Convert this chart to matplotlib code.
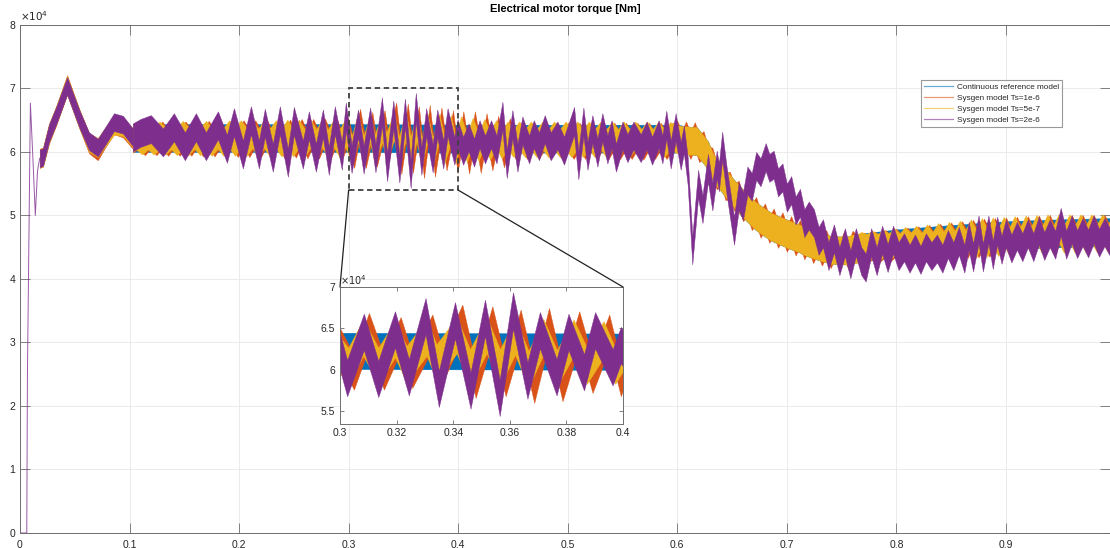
import matplotlib
matplotlib.use("Agg")
import matplotlib.pyplot as plt
import numpy as np
from matplotlib.lines import Line2D
from matplotlib.patches import Rectangle, ConnectionPatch

plt.rcParams['font.family'] = ['Liberation Sans', 'DejaVu Sans']

# values are in units of 1e4 Nm, time in s
SCALE = 1e4

# thin start-up transient (all models overlap, purple is on top)
startup_t = [0.0, 0.0062, 0.0068, 0.0095, 0.0118, 0.0140, 0.0160, 0.0180]
startup_v = [0.0, 0.0, 2.5, 6.77, 5.9, 5.0, 5.7, 5.9]

# first swing, before the fast ripple grows (band centres)
early_t = [0.018, 0.021, 0.0265, 0.033, 0.043, 0.054, 0.063, 0.071, 0.0785, 0.0858, 0.094, 0.103]
early_orange = [5.90, 5.92, 6.28, 6.57, 7.06, 6.53, 6.13, 6.02, 6.24, 6.43, 6.38, 6.20]
early_yellow = [5.90, 5.92, 6.30, 6.57, 7.05, 6.53, 6.15, 6.07, 6.25, 6.42, 6.40, 6.22]
early_purple = [5.90, 5.92, 6.30, 6.57, 7.04, 6.53, 6.17, 6.07, 6.27, 6.47, 6.43, 6.23]

# Continuous reference model: band centre
blue_t = [0.103, 0.2, 0.3, 0.4, 0.5, 0.600, 0.610, 0.618, 0.622, 0.628, 0.633, 0.641, 0.649,
          0.656, 0.664, 0.671, 0.679, 0.686, 0.694, 0.702, 0.710, 0.717, 0.725, 0.732, 0.740,
          0.747, 0.755, 0.770, 0.800, 0.850, 0.900, 0.950, 0.998]
blue_v = [6.22, 6.22, 6.22, 6.21, 6.21, 6.21, 6.18, 6.17, 6.08, 5.95, 5.74, 5.58, 5.40,
          5.26, 5.12, 5.00, 4.90, 4.82, 4.76, 4.70, 4.65, 4.59, 4.54, 4.50, 4.46,
          4.45, 4.45, 4.50, 4.56, 4.63, 4.69, 4.72, 4.74]

# Sysgen Ts=1e-6
orange_t = [0.103,
            0.1087, 0.1140, 0.1193, 0.1246, 0.1299, 0.1352, 0.1405, 0.1458, 0.1511, 0.1564,
            0.1617, 0.1670, 0.1723, 0.1776, 0.1829, 0.1882, 0.1935, 0.1988, 0.2041, 0.2094,
            0.2147, 0.2200, 0.2253, 0.2306, 0.2359, 0.2412, 0.2465, 0.2518, 0.2571, 0.2624,
            0.2677, 0.2730, 0.2783, 0.2836, 0.2889, 0.2942, 0.2995,
            0.3051, 0.3104, 0.3157, 0.3216, 0.3257, 0.3328, 0.3363, 0.3434, 0.3481, 0.3540,
            0.3587, 0.3640, 0.3688, 0.3740, 0.3788, 0.3847, 0.3894, 0.3953, 0.3994,
            0.4047, 0.4100, 0.4153, 0.4206, 0.4259, 0.4312, 0.4365, 0.4418, 0.4471, 0.4524,
            0.4577, 0.4630, 0.4683, 0.4736, 0.4789, 0.4842, 0.4895, 0.4948, 0.5001, 0.5054,
            0.5107, 0.5160, 0.5213, 0.5266, 0.5319, 0.5372, 0.5425, 0.5478, 0.5531, 0.5584,
            0.5637, 0.5690, 0.5743, 0.5796, 0.5849, 0.5902, 0.5955,
            0.600, 0.604, 0.608, 0.612, 0.616, 0.620, 0.624, 0.628, 0.632, 0.636, 0.640,
            0.644, 0.648, 0.652, 0.656, 0.660, 0.664, 0.668, 0.672, 0.676, 0.680, 0.684,
            0.688, 0.692, 0.696, 0.700, 0.704, 0.708, 0.712, 0.716, 0.720, 0.724, 0.728,
            0.732, 0.736, 0.740, 0.744, 0.748, 0.752, 0.756, 0.760,
            0.765, 0.770, 0.775, 0.780, 0.785, 0.790, 0.795, 0.800, 0.805, 0.810, 0.815,
            0.820, 0.825, 0.830, 0.835, 0.840, 0.845, 0.850, 0.855, 0.860, 0.865, 0.870,
            0.875, 0.880, 0.885, 0.890, 0.895, 0.900, 0.905, 0.910, 0.915, 0.920, 0.925,
            0.930, 0.935, 0.940, 0.945, 0.950, 0.955, 0.960, 0.965, 0.970, 0.975, 0.980,
            0.985, 0.990, 0.995]
orange_v = [6.20,
            6.26, 6.16, 6.26, 6.16, 6.27, 6.15, 6.27, 6.15, 6.27, 6.15,
            6.28, 6.14, 6.28, 6.14, 6.28, 6.14, 6.29, 6.13, 6.29, 6.13,
            6.29, 6.13, 6.30, 6.12, 6.30, 6.12, 6.30, 6.12, 6.31, 6.11,
            6.31, 6.11, 6.32, 6.10, 6.32, 6.10, 6.33,
            5.96, 6.47, 5.96, 6.42, 5.98, 6.45, 6.04, 6.57, 5.86, 6.55,
            5.88, 6.51, 5.80, 6.53, 5.82, 6.49, 5.92, 6.45, 5.88,
            6.43, 5.87, 6.43, 5.88, 6.40, 5.92, 6.36, 5.97, 6.32, 6.10,
            6.25, 6.10, 6.25, 6.10, 6.25, 6.10, 6.25, 6.10, 6.25, 6.10,
            6.25, 6.10, 6.25, 6.10, 6.25, 6.10, 6.25, 6.10, 6.25, 6.10,
            6.25, 6.09, 6.25, 6.10, 6.25, 6.10, 6.24,
            6.28, 6.12, 6.27, 6.10, 6.26, 6.05, 6.12, 5.87, 5.86, 5.62, 5.68,
            5.45, 5.48, 5.28, 5.34, 5.12, 5.20, 4.98, 5.08, 4.86, 4.98, 4.78,
            4.90, 4.70, 4.84, 4.64, 4.78, 4.58, 4.72, 4.52, 4.66, 4.46, 4.60,
            4.42, 4.56, 4.38, 4.53, 4.37, 4.53, 4.37, 4.55,
            4.46, 4.52, 4.48, 4.54, 4.48, 4.56, 4.49, 4.58, 4.49, 4.60, 4.50,
            4.62, 4.50, 4.64, 4.51, 4.66, 4.52, 4.68, 4.53, 4.70, 4.54, 4.72,
            4.55, 4.74, 4.56, 4.75, 4.57, 4.76, 4.58, 4.77, 4.59, 4.78, 4.60,
            4.79, 4.61, 4.80, 4.61, 4.80, 4.62, 4.80, 4.62, 4.80, 4.62, 4.80,
            4.63, 4.80, 4.63]

# Sysgen Ts=5e-7
yellow_t = [0.103,
            0.1062, 0.1115, 0.1168, 0.1221, 0.1274, 0.1327, 0.1380, 0.1433, 0.1486, 0.1539,
            0.1592, 0.1645, 0.1698, 0.1751, 0.1804, 0.1857, 0.1910, 0.1963, 0.2016, 0.2069,
            0.2122, 0.2175, 0.2228, 0.2281, 0.2334, 0.2387, 0.2440, 0.2493, 0.2546, 0.2599,
            0.2652, 0.2705, 0.2758, 0.2811, 0.2864, 0.2917, 0.2970,
            0.3031, 0.3084, 0.3137, 0.3196, 0.3237, 0.3308, 0.3343, 0.3414, 0.3461, 0.3520,
            0.3567, 0.3620, 0.3668, 0.3720, 0.3768, 0.3827, 0.3874, 0.3933, 0.3974,
            0.4027, 0.4080, 0.4133, 0.4186, 0.4239, 0.4292, 0.4345, 0.4398, 0.4451, 0.4504,
            0.4557, 0.4610, 0.4663, 0.4716, 0.4769, 0.4822, 0.4875, 0.4928, 0.4981, 0.5034,
            0.5087, 0.5140, 0.5193, 0.5246, 0.5299, 0.5352, 0.5405, 0.5458, 0.5511, 0.5564,
            0.5617, 0.5670, 0.5723, 0.5776, 0.5829, 0.5882, 0.5935,
            0.600, 0.610, 0.618, 0.622, 0.628, 0.633, 0.641, 0.649, 0.656, 0.664, 0.671,
            0.679, 0.686, 0.694, 0.702, 0.710, 0.717, 0.725, 0.732, 0.740, 0.747, 0.755,
            0.760,
            0.763, 0.768, 0.773, 0.778, 0.783, 0.788, 0.793, 0.798, 0.803, 0.808, 0.813,
            0.818, 0.823, 0.828, 0.833, 0.838, 0.843, 0.848, 0.853, 0.858, 0.863, 0.868,
            0.873, 0.878, 0.883, 0.888, 0.893, 0.898, 0.903, 0.908, 0.913, 0.918, 0.923,
            0.928, 0.933, 0.938, 0.943, 0.948, 0.953, 0.958, 0.963, 0.968, 0.973, 0.978,
            0.983, 0.988, 0.993, 0.998]
yellow_v = [6.22,
            6.26, 6.18, 6.26, 6.18, 6.26, 6.18, 6.26, 6.17, 6.27, 6.17,
            6.27, 6.17, 6.27, 6.16, 6.27, 6.16, 6.28, 6.16, 6.28, 6.16,
            6.28, 6.15, 6.28, 6.15, 6.28, 6.15, 6.29, 6.15, 6.29, 6.14,
            6.29, 6.14, 6.29, 6.14, 6.29, 6.14, 6.30,
            6.04, 6.38, 6.04, 6.36, 6.06, 6.38, 6.08, 6.41, 6.02, 6.41,
            6.02, 6.39, 6.00, 6.39, 6.01, 6.38, 6.04, 6.36, 6.04,
            6.34, 6.06, 6.32, 6.08, 6.30, 6.10, 6.28, 6.12, 6.26, 6.14,
            6.26, 6.14, 6.26, 6.14, 6.26, 6.14, 6.26, 6.14, 6.26, 6.14,
            6.26, 6.14, 6.26, 6.14, 6.26, 6.14, 6.26, 6.14, 6.26, 6.14,
            6.26, 6.14, 6.26, 6.14, 6.26, 6.14, 6.25,
            6.20, 6.18, 6.17, 6.08, 5.95, 5.74, 5.58, 5.40, 5.26, 5.12, 5.00,
            4.90, 4.82, 4.76, 4.70, 4.65, 4.59, 4.54, 4.50, 4.46, 4.45, 4.45,
            4.48,
            4.47, 4.52, 4.49, 4.54, 4.49, 4.56, 4.50, 4.58, 4.50, 4.60, 4.51,
            4.62, 4.51, 4.64, 4.52, 4.66, 4.53, 4.68, 4.54, 4.70, 4.55, 4.72,
            4.56, 4.74, 4.57, 4.75, 4.58, 4.76, 4.59, 4.77, 4.60, 4.78, 4.61,
            4.79, 4.62, 4.80, 4.62, 4.80, 4.63, 4.80, 4.63, 4.80, 4.63, 4.80,
            4.64, 4.80, 4.64, 4.80]

# Sysgen Ts=2e-6
purple_t = [0.103, 0.110, 0.1195, 0.1305, 0.1405, 0.1505, 0.1606, 0.1697, 0.1807, 0.1889,
            0.1953, 0.2035, 0.2108, 0.2181, 0.2235, 0.2308, 0.2372, 0.2445, 0.2500, 0.2582,
            0.2637, 0.2701, 0.2765, 0.2819, 0.2874, 0.2938, 0.2974,
            0.3027, 0.3086, 0.3137, 0.3196, 0.3245, 0.3304, 0.3351, 0.3408, 0.3463, 0.3514,
            0.3566, 0.3613, 0.3664, 0.3708, 0.3767, 0.3809, 0.3864, 0.3903, 0.3965, 0.3994,
            0.4045, 0.4095, 0.4145, 0.4195, 0.4245, 0.4300, 0.4350, 0.4404, 0.4443, 0.4495,
            0.4541, 0.4586, 0.4647, 0.4690, 0.4738, 0.4790, 0.4845, 0.4906, 0.4966, 0.5058,
            0.5097, 0.5143, 0.5180, 0.5225, 0.5271, 0.5316, 0.5362, 0.5400, 0.5440, 0.5500,
            0.5545, 0.5600, 0.5666, 0.5720, 0.5770, 0.5830, 0.5864, 0.5900, 0.5940, 0.5985,
            0.6031, 0.6060, 0.6095, 0.6137, 0.6190, 0.6230, 0.6280, 0.6320, 0.6360, 0.6380,
            0.6410, 0.6450, 0.6518, 0.6560, 0.6600, 0.6640, 0.6680, 0.6720, 0.6760, 0.6807,
            0.6840, 0.6880, 0.6920, 0.6960, 0.7000, 0.7040, 0.7080, 0.7120, 0.7160, 0.7200,
            0.7247, 0.7290, 0.7330, 0.7380, 0.7430, 0.7480, 0.7530, 0.7580, 0.7630, 0.7680,
            0.7720, 0.7770, 0.7820, 0.7870, 0.7920, 0.7970, 0.8020,
            0.8070, 0.8120, 0.8170, 0.8220, 0.8270, 0.8320, 0.8370, 0.8420, 0.8470, 0.8520,
            0.8570, 0.8620, 0.8660, 0.8700, 0.8750, 0.8790, 0.8840, 0.8880, 0.8920, 0.8960,
            0.9000, 0.9050, 0.9100, 0.9150, 0.9200, 0.9250, 0.9300, 0.9350, 0.9400, 0.9450,
            0.9500, 0.9550, 0.9600, 0.9650, 0.9700, 0.9750, 0.9800, 0.9850, 0.9900, 0.9950]
purple_v = [6.23, 6.30, 6.36, 6.15, 6.39, 6.09, 6.39, 6.09, 6.42, 6.05,
            6.47, 5.96, 6.50, 5.96, 6.46, 5.91, 6.50, 5.83, 6.49, 5.96,
            6.42, 5.91, 6.45, 5.86, 6.50, 5.94, 6.56,
            5.89, 6.45, 5.88, 6.48, 5.90, 6.64, 5.76, 6.59, 5.74, 6.62,
            5.65, 6.71, 5.86, 6.47, 5.90, 6.45, 5.96, 6.47, 6.02, 6.29,
            6.02, 6.23, 5.99, 6.28, 6.04, 6.28, 6.04, 6.57, 5.81, 6.44,
            5.91, 6.34, 6.04, 6.28, 6.09, 6.36, 6.09, 6.26, 6.02, 6.49,
            5.79, 6.48, 5.94, 6.36, 5.99, 6.39, 6.04, 6.28, 5.91, 6.26,
            6.06, 6.26, 6.06, 6.26, 6.02, 6.28, 6.04, 6.43, 5.96, 6.39,
            5.94, 6.20, 5.70, 4.45, 5.50, 5.10, 5.75, 5.30, 5.80, 5.60,
            6.10, 5.55, 4.76, 5.30, 5.15, 5.55, 5.45, 5.78, 5.68, 5.92,
            5.75, 5.80, 5.52, 5.60, 5.28, 5.40, 5.08, 5.20, 4.88, 5.00,
            4.88, 4.60, 4.72, 4.36, 4.64, 4.28, 4.58, 4.23, 4.58, 4.28,
            4.18, 4.58, 4.28, 4.62, 4.33, 4.62, 4.36,
            4.50, 4.32, 4.48, 4.30, 4.50, 4.36, 4.48, 4.32, 4.55, 4.36,
            4.60, 4.32, 4.68, 4.34, 4.78, 4.34, 4.78, 4.38, 4.76, 4.46,
            4.72, 4.48, 4.68, 4.50, 4.72, 4.50, 4.76, 4.52, 4.72, 4.54,
            4.90, 4.54, 4.78, 4.55, 4.74, 4.56, 4.78, 4.57, 4.74, 4.58]

labels = ['Continuous reference model', 'Sysgen model Ts=1e-6',
          'Sysgen model Ts=5e-7', 'Sysgen model Ts=2e-6']
colors = ['#0072BD', '#D95319', '#EDB120', '#7E2F8E']

# (time, centre, half thickness of the fast ripple, colour) in drawing order
bands = [
    (blue_t, blue_v, 0.22, colors[0]),
    (early_t, early_orange, 0.15, colors[1]),
    (orange_t, orange_v, 0.21, colors[1]),
    (early_t, early_yellow, 0.15, colors[2]),
    (yellow_t, yellow_v, 0.22, colors[2]),
    (early_t, early_purple, 0.14, colors[3]),
    (purple_t, purple_v, 0.22, colors[3]),
]

x_ticks = [0, 0.1, 0.2, 0.3, 0.4, 0.5, 0.6, 0.7, 0.8, 0.9]
x_ticklabels = ['0', '0.1', '0.2', '0.3', '0.4', '0.5', '0.6', '0.7', '0.8', '0.9']
y_ticks = [0, 1, 2, 3, 4, 5, 6, 7, 8]
zoom_xticks = [0.3, 0.32, 0.34, 0.36, 0.38, 0.4]
zoom_xticklabels = ['0.3', '0.32', '0.34', '0.36', '0.38', '0.4']
zoom_yticks = [5.5, 6, 6.5, 7]
zoom_yticklabels = ['5.5', '6', '6.5', '7']

txt = '#262626'
spine = '#6e6e6e'


def draw_bands(a):
    for t, v, hw, c in bands:
        t = np.array(t)
        v = np.array(v)
        a.fill_between(t, (v - hw) * SCALE, (v + hw) * SCALE, color=c, lw=0.3, ec=c)
    a.plot(startup_t, np.array(startup_v) * SCALE, color=colors[3], lw=0.7, alpha=0.8)


def matlab_style(a, ticklen):
    for s in a.spines.values():
        s.set_color(spine)
        s.set_linewidth(0.7)
    a.tick_params(direction='in', length=ticklen, width=0.6, color=spine,
                  labelsize=7.5, labelcolor=txt, top=True, right=True)
    a.tick_params(axis='x', pad=5)
    a.grid(True, color='#e8e8e8', lw=0.6)
    a.set_axisbelow(True)


fig = plt.figure(figsize=(11.1, 5.48), dpi=100)
ax = fig.add_axes([0.018, 0.0274, 0.982, 0.927])
draw_bands(ax)
ax.set_xlim(0, 0.995)
ax.set_ylim(0, 8 * SCALE)
ax.set_xticks(x_ticks)
ax.set_xticklabels(x_ticklabels)
ax.set_yticks([y * SCALE for y in y_ticks])
ax.set_yticklabels([str(y) for y in y_ticks])
matlab_style(ax, 7.5)
ax.text(0.0, 1.004, r'$\times10^{4}$', transform=ax.transAxes, fontsize=7.5, color=txt,
        ha='left', va='bottom')
ax.set_title('Electrical motor torque [Nm]', fontsize=8, fontweight='bold', color='black', pad=9)

handles = [Line2D([], [], color=c, lw=0.9, alpha=0.6) for c in colors]
leg = ax.legend(handles, labels, loc='upper left', bbox_to_anchor=(0.8266, 0.8917),
                fontsize=5.9, frameon=True, fancybox=False, borderpad=0.35,
                handlelength=3.6, handletextpad=0.5, labelspacing=0.42, borderaxespad=0)
leg.get_frame().set_edgecolor('#808080')
leg.get_frame().set_linewidth(0.8)
for tx in leg.get_texts():
    tx.set_color(txt)

# zoom box on the main axes
ax.add_patch(Rectangle((0.3, 5.4 * SCALE), 0.1, 1.6 * SCALE, fill=False,
                       ls=(0, (3, 2)), ec='#404040', lw=1.3, zorder=5))

axin = fig.add_axes([0.3063, 0.2263, 0.255, 0.25])
axin.set_facecolor('white')
draw_bands(axin)
axin.set_xlim(0.3, 0.4)
axin.set_ylim(5.34 * SCALE, 7.0 * SCALE)
axin.set_xticks(zoom_xticks)
axin.set_xticklabels(zoom_xticklabels)
axin.set_yticks([y * SCALE for y in zoom_yticks])
axin.set_yticklabels(zoom_yticklabels)
matlab_style(axin, 3)
axin.tick_params(axis='x', pad=3)
axin.grid(False)
axin.text(0.0, 1.0, r'$\times10^{4}$', transform=axin.transAxes, fontsize=7, color=txt,
          ha='left', va='bottom')

for xa, xb in [(0.3, 0), (0.4, 1)]:
    con = ConnectionPatch(xyA=(xa, 5.4 * SCALE), coordsA=ax.transData,
                          xyB=(xb, 1), coordsB=axin.transAxes, color='#202020', lw=0.9)
    fig.add_artist(con)

fig.savefig('out.png', dpi=100)
